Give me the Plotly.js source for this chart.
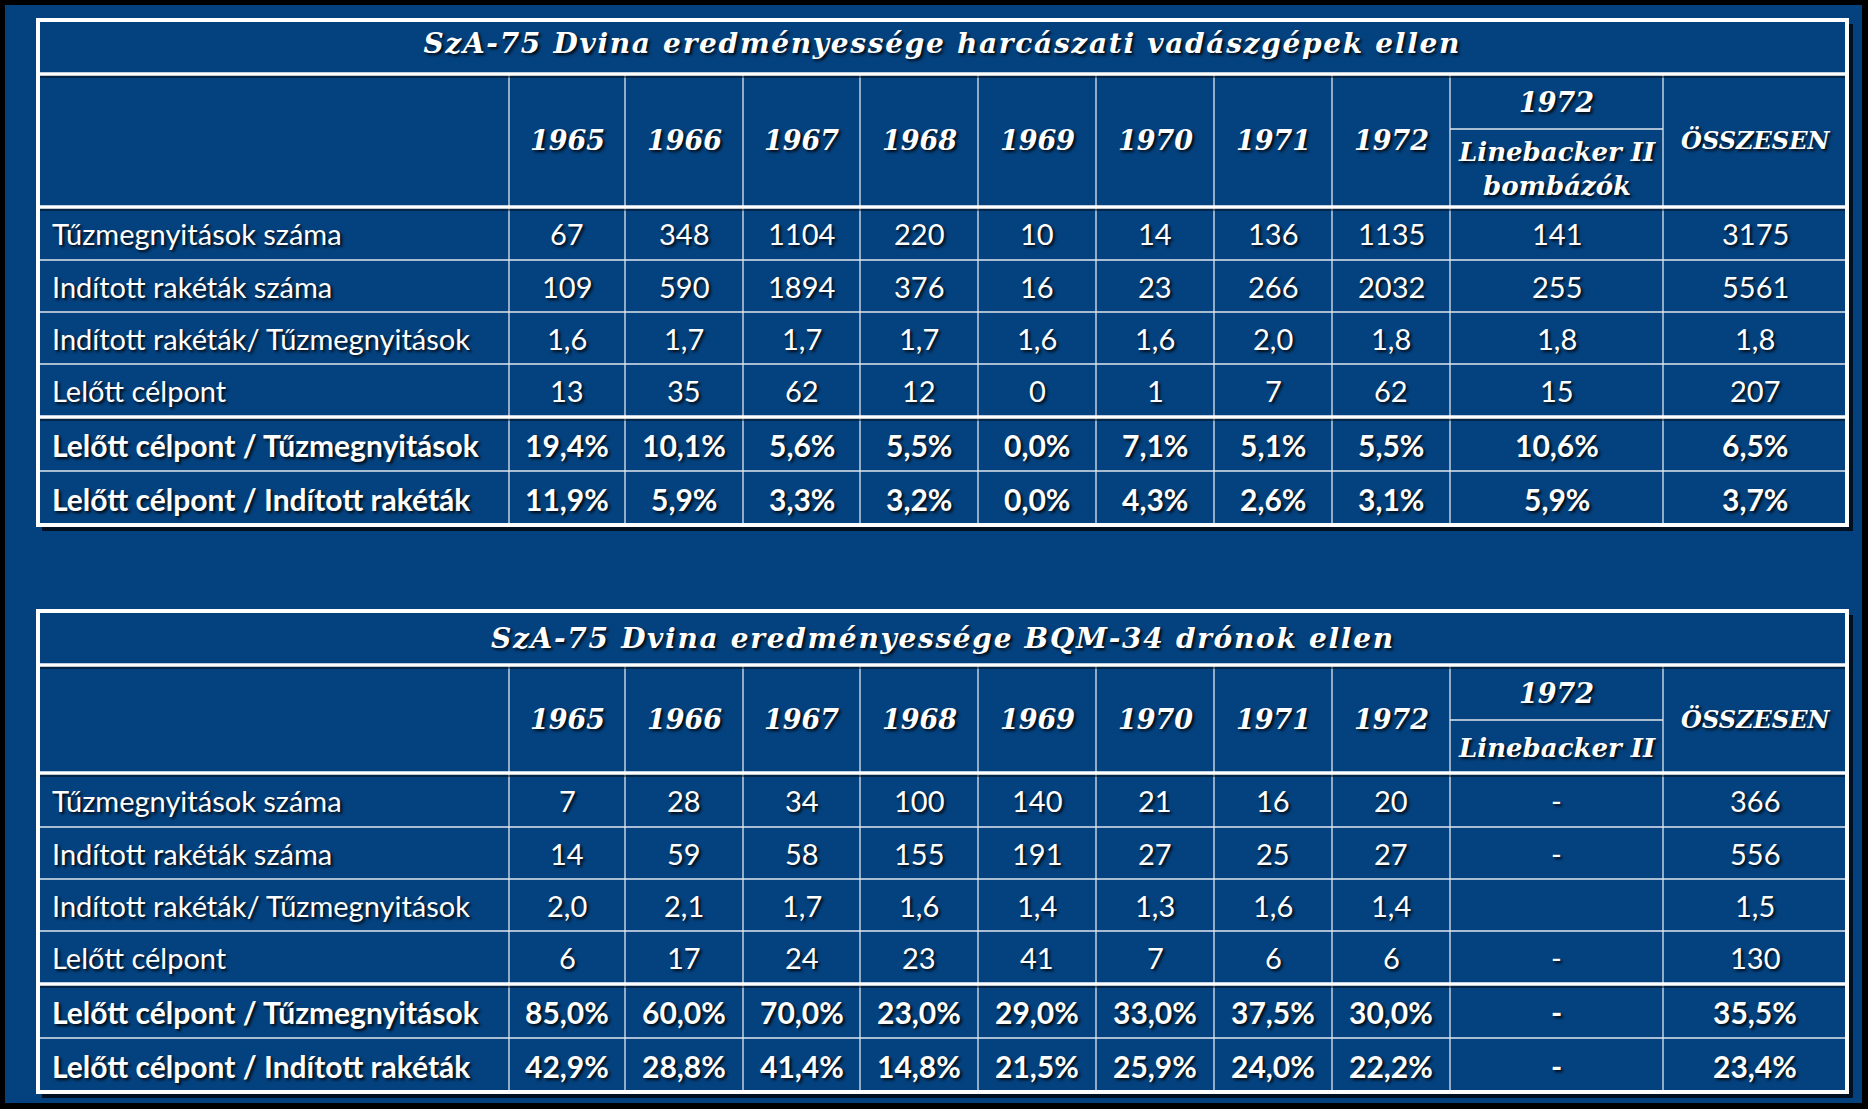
<!DOCTYPE html>
<html>
<head>
<meta charset="utf-8">
<script src="https://cdn.plot.ly/plotly-3.0.1.min.js"></script>
<style>
html,body{margin:0;padding:0;background:#000;}
#chart{width:1868px;height:1109px;}
g.annotation[data-index="0"] text, g.annotation[data-index="1"] text { letter-spacing: 1.7px; }
</style>
</head>
<body>
<div id="chart"></div>
<script>
// ---------------- DATA ----------------
const title1 = "SzA-75 Dvina eredményessége harcászati vadászgépek ellen";
const title2 = "SzA-75 Dvina eredményessége BQM-34 drónok ellen";
const years = ["1965", "1966", "1967", "1968", "1969", "1970", "1971", "1972"];
const lbYear = "1972";
const lbLabel1 = "Linebacker II<br>bombázók";
const lbLabel2 = "Linebacker II";
const totalLabel = "ÖSSZESEN";
const rowLabels = [
  "Tűzmegnyitások száma",
  "Indított rakéták száma",
  "Indított rakéták/ Tűzmegnyitások",
  "Lelőtt célpont",
  "Lelőtt célpont / Tűzmegnyitások",
  "Lelőtt célpont / Indított rakéták"
];
// columns: 1965..1972, Linebacker II, ÖSSZESEN   (null = "-", "" = empty)
const fighterFireOpenings = [67, 348, 1104, 220, 10, 14, 136, 1135, 141, 3175];
const fighterMissiles     = [109, 590, 1894, 376, 16, 23, 266, 2032, 255, 5561];
const fighterMissPerFire  = [1.6, 1.7, 1.7, 1.7, 1.6, 1.6, 2.0, 1.8, 1.8, 1.8];
const fighterKills        = [13, 35, 62, 12, 0, 1, 7, 62, 15, 207];
const fighterKillPerFire  = [19.4, 10.1, 5.6, 5.5, 0.0, 7.1, 5.1, 5.5, 10.6, 6.5];
const fighterKillPerMiss  = [11.9, 5.9, 3.3, 3.2, 0.0, 4.3, 2.6, 3.1, 5.9, 3.7];

const droneFireOpenings = [7, 28, 34, 100, 140, 21, 16, 20, null, 366];
const droneMissiles     = [14, 59, 58, 155, 191, 27, 25, 27, null, 556];
const droneMissPerFire  = [2.0, 2.1, 1.7, 1.6, 1.4, 1.3, 1.6, 1.4, "", 1.5];
const droneKills        = [6, 17, 24, 23, 41, 7, 6, 6, null, 130];
const droneKillPerFire  = [85.0, 60.0, 70.0, 23.0, 29.0, 33.0, 37.5, 30.0, null, 35.5];
const droneKillPerMiss  = [42.9, 28.8, 41.4, 14.8, 21.5, 25.9, 24.0, 22.2, null, 23.4];

// ---------------- LAYOUT GEOMETRY ----------------
const W = 1868, H = 1109;
const BLUE = "#04427F";
const colX = [38, 509, 625, 743, 860, 978, 1096, 1214, 1332, 1450, 1663, 1847];
const table1Geom = {top: 20, title: 74, sub: 129, head: 207, titleShift: -4, rows: [207, 260, 312, 364, 417, 471, 525]};
const table2Geom = {top: 611, title: 665, sub: 720, head: 773, titleShift: 0, rows: [773, 827, 879, 931, 984, 1038, 1092]};

const SANS = "Lato, 'Open Sans', sans-serif";
const SERIF = "'DejaVu Serif', 'Liberation Serif', serif";
const SHADOW = "2px 2px 3px rgba(0,0,0,0.9)";

function fmtInt(v) { return v === null ? "-" : (v === "" ? "" : String(v)); }
function fmtDec(v) { return v === null ? "-" : (v === "" ? "" : v.toFixed(1).replace(".", ",")); }
function fmtPct(v) { return v === null ? "-" : (v === "" ? "" : v.toFixed(1).replace(".", ",") + "%"); }

const shapes = [];
const titleAnns = [];
const anns = [];

// background panel
shapes.push({type: "rect", xref: "x", yref: "y", x0: 5, x1: 1862, y0: 5, y1: 1103,
  fillcolor: BLUE, line: {width: 0}});

function hline(x0, x1, y, w, c) {
  shapes.push({type: "line", xref: "x", yref: "y", x0: x0, x1: x1, y0: y, y1: y,
    line: {color: c, width: w}});
}
function vline(x, y0, y1, w, c) {
  shapes.push({type: "line", xref: "x", yref: "y", x0: x, x1: x, y0: y0, y1: y1,
    line: {color: c, width: w}});
}
function txt(x, y, text, opts) {
  anns.push(Object.assign({xref: "x", yref: "y", x: x, y: y, text: text, showarrow: false,
    xanchor: "center", yanchor: "middle"}, opts));
}

function buildTable(g, title, lbLabel, rows) {
  const L = colX[0], R = colX[colX.length - 1];
  const bottom = g.rows[g.rows.length - 1];
  // drop shadow
  shapes.push({type: "rect", xref: "x", yref: "y", x0: L + 4, x1: R + 6, y0: g.top + 4, y1: bottom + 6,
    fillcolor: "rgba(0,0,0,0.75)", line: {width: 0}});
  shapes.push({type: "rect", xref: "x", yref: "y", x0: L, x1: R, y0: g.top, y1: bottom,
    fillcolor: BLUE, line: {width: 0}});
  const thin = "#dfe6ee";
  for (let i = 1; i < g.rows.length - 1; i++) {
    if (i === 4) continue;
    hline(L, R, g.rows[i], 1.3, thin);
  }
  for (let c = 1; c < colX.length - 1; c++) vline(colX[c], g.title, bottom, 1.3, thin);
  hline(colX[9], colX[10], g.sub, 1.3, thin);
  const thickYs = [g.title, g.head, g.rows[4]];
  thickYs.forEach(y => hline(L, R, y + 2.5, 3, "rgba(0,0,0,0.45)"));
  thickYs.forEach(y => hline(L, R, y, 3.5, "#ffffff"));
  shapes.push({type: "rect", xref: "x", yref: "y", x0: L, x1: R, y0: g.top, y1: bottom,
    line: {color: "#ffffff", width: 4}});

  // title
  titleAnns.push({xref: "x", yref: "y", x: (L + R) / 2, y: (g.top + g.title) / 2 + g.titleShift, text: title,
    showarrow: false, xanchor: "center", yanchor: "middle",
    font: {family: SERIF, size: 28, color: "#ffffff", weight: 700, style: "italic", shadow: SHADOW}});

  // header
  const hy = (g.title + g.head) / 2;
  const hFont = {family: SERIF, size: 27, color: "#ffffff", weight: 700, style: "italic", shadow: SHADOW};
  years.forEach((yr, i) => txt((colX[i + 1] + colX[i + 2]) / 2, hy, yr, {font: hFont}));
  txt((colX[9] + colX[10]) / 2, (g.title + g.sub) / 2 + 1, lbYear, {font: hFont});
  txt((colX[9] + colX[10]) / 2, (g.sub + g.head) / 2 + 1, lbLabel, {font: Object.assign({}, hFont, {size: 26})});
  txt((colX[10] + colX[11]) / 2, hy, totalLabel, {font: Object.assign({}, hFont, {size: 24})});

  // body
  rows.forEach((r, ri) => {
    const cy = (g.rows[ri] + g.rows[ri + 1]) / 2 + (ri >= 4 ? 1 : 0);
    const bold = ri >= 4;
    const f = {family: SANS, size: bold ? 30 : 29, color: "#ffffff", weight: bold ? 700 : 400, shadow: SHADOW};
    txt(colX[0] + 12, cy, rowLabels[ri], {xanchor: "left", font: f});
    r.vals.forEach((v, ci) => {
      const s = r.fmt(v);
      if (s !== "") txt((colX[ci + 1] + colX[ci + 2]) / 2, cy, s, {font: f});
    });
  });
}

buildTable(table1Geom, title1, lbLabel1, [
  {vals: fighterFireOpenings, fmt: fmtInt},
  {vals: fighterMissiles, fmt: fmtInt},
  {vals: fighterMissPerFire, fmt: fmtDec},
  {vals: fighterKills, fmt: fmtInt},
  {vals: fighterKillPerFire, fmt: fmtPct},
  {vals: fighterKillPerMiss, fmt: fmtPct}
]);
buildTable(table2Geom, title2, lbLabel2, [
  {vals: droneFireOpenings, fmt: fmtInt},
  {vals: droneMissiles, fmt: fmtInt},
  {vals: droneMissPerFire, fmt: fmtDec},
  {vals: droneKills, fmt: fmtInt},
  {vals: droneKillPerFire, fmt: fmtPct},
  {vals: droneKillPerMiss, fmt: fmtPct}
]);

const layout = {
  width: W, height: H,
  margin: {l: 0, r: 0, t: 0, b: 0, pad: 0},
  paper_bgcolor: "#000000",
  plot_bgcolor: "rgba(0,0,0,0)",
  showlegend: false,
  xaxis: {range: [0, W], visible: false, fixedrange: true},
  yaxis: {range: [H, 0], visible: false, fixedrange: true},
  shapes: shapes,
  annotations: titleAnns.concat(anns)
};

Plotly.newPlot("chart", [{type: "scatter", x: [], y: [], mode: "markers", hoverinfo: "skip"}], layout,
  {staticPlot: true, displayModeBar: false});
</script>
</body>
</html>
